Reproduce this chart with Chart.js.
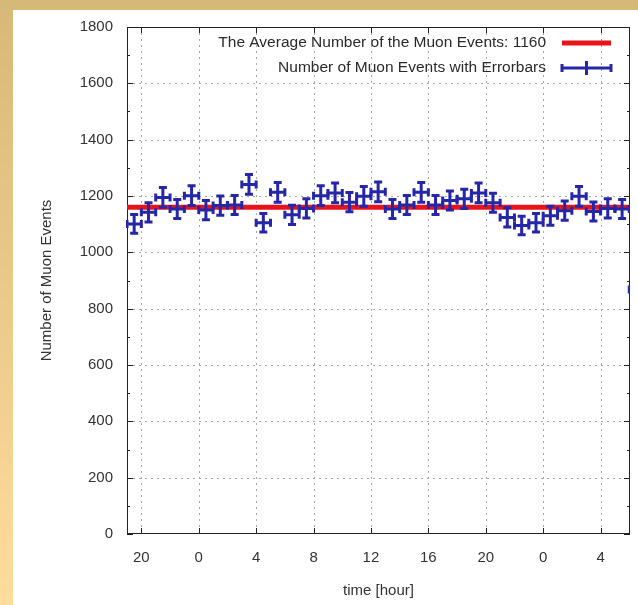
<!DOCTYPE html>
<html>
<head>
<meta charset="utf-8">
<title>Muon Events</title>
<script src="https://cdn.jsdelivr.net/npm/chart.js@4.4.1/dist/chart.umd.min.js"></script>
<style>
    html, body { margin: 0; padding: 0; }
    body {
        width: 638px;
        height: 605px;
        overflow: hidden;
        position: relative;
        background: linear-gradient(to bottom, #d6b979 0%, #fedc9e 100%);
    }
    #panel {
        position: absolute;
        left: 13px;
        top: 10px;
        width: 625px;
        height: 595px;
        background: #fff;
    }
    canvas { display: block; }
</style>
</head>
<body>
<div id="panel"><canvas id="muonChart" width="625" height="595"></canvas></div>
<script>
// Hourly bins, x = hours counted from midnight of the first day (bin centres)
const hours = [
    19.5, 20.5, 21.5, 22.5, 23.5, 24.5, 25.5, 26.5, 27.5, 28.5, 29.5, 30.5,
    31.5, 32.5, 33.5, 34.5, 35.5, 36.5, 37.5, 38.5, 39.5, 40.5, 41.5, 42.5,
    43.5, 44.5, 45.5, 46.5, 47.5, 48.5, 49.5, 50.5, 51.5, 52.5, 53.5, 54.5
];
const counts = [
    1101, 1142, 1195, 1154, 1201, 1150, 1166, 1168, 1241, 1105, 1213, 1133,
    1156, 1201, 1211, 1178, 1199, 1215, 1154, 1168, 1213, 1168, 1184, 1190,
    1211, 1176, 1124, 1095, 1105, 1130, 1148, 1199, 1145, 1156, 1154, 868
];
// statistical error of each bin
const countErrors = [
    33, 34, 35, 34, 35, 34, 34, 34, 35, 33, 35, 34,
    34, 35, 35, 34, 35, 35, 34, 34, 35, 34, 34, 34,
    35, 34, 34, 33, 33, 34, 34, 35, 34, 34, 34, 29
];
const binHalfWidth = 0.5;
const averageCount = 1160;

const xTicks = [20, 24, 28, 32, 36, 40, 44, 48, 52];
const yTicks = [0, 200, 400, 600, 800, 1000, 1200, 1400, 1600, 1800];
const yMinorTicks = [100, 300, 500, 700, 900, 1100, 1300, 1500, 1700];

const X_MIN = 19;
const X_MAX = 54.05;

const RED = '#e8141c';
const BLUE = '#2626a8';
const FONT = "'Liberation Sans', Arial, sans-serif";

Chart.defaults.font.family = FONT;
Chart.defaults.font.size = 15;
Chart.defaults.color = '#333';

// dotted grid, plot border and gnuplot-style inward ticks
const framePlugin = {
    id: 'frame',
    beforeDatasetsDraw(chart) {
        const { ctx, chartArea: a, scales: { x, y } } = chart;
        ctx.save();
        ctx.lineWidth = 1;
        ctx.strokeStyle = '#a8a8a8';
        ctx.setLineDash([2, 4]);
        ctx.beginPath();
        xTicks.forEach(v => {
            const px = Math.round(x.getPixelForValue(v)) + 0.5;
            ctx.moveTo(px, a.top);
            ctx.lineTo(px, a.bottom);
        });
        yTicks.slice(1, -1).forEach(v => {
            const py = Math.round(y.getPixelForValue(v)) + 0.5;
            ctx.moveTo(a.left, py);
            ctx.lineTo(a.right, py);
        });
        ctx.stroke();
        ctx.setLineDash([]);

        ctx.strokeStyle = '#222';
        ctx.beginPath();
        xTicks.forEach(v => {
            const px = Math.round(x.getPixelForValue(v)) + 0.5;
            ctx.moveTo(px, a.bottom); ctx.lineTo(px, a.bottom - 6);
            ctx.moveTo(px, a.top); ctx.lineTo(px, a.top + 6);
        });
        yTicks.forEach(v => {
            const py = Math.round(y.getPixelForValue(v)) + 0.5;
            ctx.moveTo(a.left, py); ctx.lineTo(a.left + 6, py);
            ctx.moveTo(a.right, py); ctx.lineTo(a.right - 6, py);
        });
        yMinorTicks.forEach(v => {
            const py = Math.round(y.getPixelForValue(v)) + 0.5;
            ctx.moveTo(a.left, py); ctx.lineTo(a.left + 3, py);
            ctx.moveTo(a.right, py); ctx.lineTo(a.right - 3, py);
        });
        ctx.stroke();
        ctx.strokeRect(Math.round(a.left) + 0.5, Math.round(a.top) + 0.5,
            Math.round(a.width) - 1, Math.round(a.height) - 1);
        ctx.restore();
    }
};

// x/y error bars with end caps
const errorBarPlugin = {
    id: 'errorBars',
    afterDatasetsDraw(chart) {
        const { ctx, chartArea: a, scales: { x, y } } = chart;
        const cap = 4;
        ctx.save();
        ctx.beginPath();
        ctx.rect(a.left - 1, a.top, a.width + 1, a.height);
        ctx.clip();
        ctx.strokeStyle = BLUE;
        ctx.lineWidth = 3;
        hours.forEach((h, i) => {
            const cx = x.getPixelForValue(h);
            const cy = y.getPixelForValue(counts[i]);
            const x0 = x.getPixelForValue(h - binHalfWidth);
            const x1 = x.getPixelForValue(h + binHalfWidth);
            const y0 = y.getPixelForValue(counts[i] - countErrors[i]);
            const y1 = y.getPixelForValue(counts[i] + countErrors[i]);
            ctx.beginPath();
            ctx.moveTo(x0, cy); ctx.lineTo(x1, cy);
            ctx.moveTo(cx, y0); ctx.lineTo(cx, y1);
            ctx.moveTo(x0, cy - cap); ctx.lineTo(x0, cy + cap);
            ctx.moveTo(x1, cy - cap); ctx.lineTo(x1, cy + cap);
            ctx.moveTo(cx - cap, y0); ctx.lineTo(cx + cap, y0);
            ctx.moveTo(cx - cap, y1); ctx.lineTo(cx + cap, y1);
            ctx.stroke();
        });
        ctx.restore();
    }
};

// key in the top right corner: text first, sample after it
const keyPlugin = {
    id: 'key',
    afterDraw(chart) {
        const { ctx } = chart;
        const textRight = 533;
        const sampleL = 549, sampleR = 598;
        const row1 = 33, row2 = 58;
        ctx.save();
        ctx.font = '15.5px ' + FONT;
        ctx.fillStyle = '#2a2a2a';
        ctx.textAlign = 'right';
        ctx.textBaseline = 'middle';
        ctx.fillText('The Average Number of the Muon Events: ' + averageCount, textRight, row1);
        ctx.fillText('Number of Muon Events with Errorbars', textRight, row2);

        ctx.strokeStyle = RED;
        ctx.lineWidth = 5;
        ctx.beginPath();
        ctx.moveTo(sampleL, row1); ctx.lineTo(sampleR, row1);
        ctx.stroke();

        ctx.strokeStyle = BLUE;
        ctx.lineWidth = 3;
        const mid = (sampleL + sampleR) / 2;
        ctx.beginPath();
        ctx.moveTo(sampleL, row2); ctx.lineTo(sampleR, row2);
        ctx.moveTo(sampleL, row2 - 4); ctx.lineTo(sampleL, row2 + 4);
        ctx.moveTo(sampleR, row2 - 4); ctx.lineTo(sampleR, row2 + 4);
        ctx.moveTo(mid, row2 - 7); ctx.lineTo(mid, row2 + 7);
        ctx.stroke();
        ctx.restore();
    }
};

const ctx = document.getElementById('muonChart').getContext('2d');
const muonChart = new Chart(ctx, {
    type: 'scatter',
    data: {
        datasets: [
            {
                type: 'line',
                label: 'The Average Number of the Muon Events: ' + averageCount,
                data: [{ x: X_MIN, y: averageCount }, { x: X_MAX, y: averageCount }],
                borderColor: RED,
                borderWidth: 5,
                pointRadius: 0,
                fill: false
            },
            {
                label: 'Number of Muon Events with Errorbars',
                data: hours.map((h, i) => ({ x: h, y: counts[i] })),
                pointRadius: 0,
                showLine: false
            }
        ]
    },
    options: {
        responsive: false,
        animation: false,
        events: [],
        layout: { padding: { left: 0, top: 17, right: 8, bottom: 0 } },
        plugins: {
            legend: { display: false },
            tooltip: { enabled: false }
        },
        scales: {
            x: {
                type: 'linear',
                min: X_MIN,
                max: X_MAX,
                afterBuildTicks: scale => { scale.ticks = xTicks.map(v => ({ value: v })); },
                afterFit: scale => {
                    scale.height = 71;
                    scale.paddingLeft = 0;
                    scale.paddingRight = 0;
                },
                grid: { display: false, drawTicks: false },
                border: { display: false },
                ticks: {
                    padding: 15,
                    maxRotation: 0,
                    autoSkip: false,
                    callback: v => String(v % 24)
                },
                title: {
                    display: true,
                    text: 'time [hour]',
                    padding: { top: 0, bottom: 5 }
                }
            },
            y: {
                min: 0,
                max: 1800,
                afterBuildTicks: scale => { scale.ticks = yTicks.map(v => ({ value: v })); },
                afterFit: scale => {
                    scale.width = 114;
                    scale.paddingTop = 0;
                    scale.paddingBottom = 0;
                },
                grid: { display: false, drawTicks: false },
                border: { display: false },
                ticks: {
                    padding: 14,
                    callback: v => String(v)
                },
                title: {
                    display: true,
                    text: 'Number of Muon Events',
                    padding: { top: 25, bottom: 0 }
                }
            }
        }
    },
    plugins: [framePlugin, errorBarPlugin, keyPlugin]
});
</script>
</body>
</html>
